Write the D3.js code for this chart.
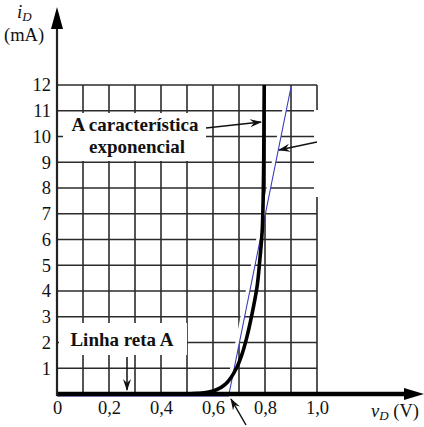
<!DOCTYPE html>
<html>
<head>
<meta charset="utf-8">
<script src="https://cdn.jsdelivr.net/npm/d3@7"></script>
<style>
  body { margin: 0; background: #fff; }
  svg { display: block; }
</style>
</head>
<body>
<div class="chart"></div>
<script>
	// data
	var gridV = [0, 0.1, 0.2, 0.3, 0.4, 0.5, 0.6, 0.7, 0.8, 0.9, 1.0];
	var gridI = [1, 2, 3, 4, 5, 6, 7, 8, 9, 10, 11, 12];
	var xTickVals = [0, 0.2, 0.4, 0.6, 0.8, 1.0];
	var yTickVals = [1, 2, 3, 4, 5, 6, 7, 8, 9, 10, 11, 12];

	// exponential characteristic (thick black)
	var expV = [0, 0.50, 0.55, 0.60, 0.63, 0.65, 0.67, 0.69, 0.71, 0.73, 0.75, 0.77, 0.78, 0.79, 0.795, 0.797];
	var expI = [0, 0.00, 0.03, 0.12, 0.25, 0.40, 0.65, 1.00, 1.50, 2.20, 3.10, 4.20, 5.20, 6.50, 9.0, 12];

	// straight line A (thin blue)
	var lineV = [0, 0.66, 0.90];
	var lineI = [0, 0, 12];

	var width = 424, height = 427;
	var serif = "'Liberation Serif', 'Times New Roman', serif";

	var svg = d3.select(".chart")
		.append("svg")
			.attr("width", width)
			.attr("height", height)
			.style("font-family", serif);

	var x = d3.scaleLinear().domain([0, 1]).range([57, 317]);
	var y = d3.scaleLinear().domain([0, 12]).range([394, 85]);

	var defs = svg.append("defs");
	defs.append("marker")
		.attr("id", "head")
		.attr("viewBox", "0 0 12 10")
		.attr("refX", 11).attr("refY", 5)
		.attr("markerWidth", 12).attr("markerHeight", 10)
		.attr("markerUnits", "userSpaceOnUse")
		.attr("orient", "auto")
	  .append("path")
		.attr("d", "M0,1 L12,5 L0,9 L4,5 Z")
		.attr("fill", "#111");

	// grid
	var grid = svg.append("g").attr("stroke", "#2b2b2b").attr("stroke-width", 1.6);
	grid.selectAll(".gv").data(gridV).enter().append("line")
		.attr("class", "gv")
		.attr("x1", function(d){ return x(d); }).attr("x2", function(d){ return x(d); })
		.attr("y1", y(0)).attr("y2", y(12));
	grid.selectAll(".gh").data(gridI).enter().append("line")
		.attr("class", "gh")
		.attr("x1", x(0)).attr("x2", x(1))
		.attr("y1", function(d){ return y(d); }).attr("y2", function(d){ return y(d); });

	// white boxes behind the labels
	svg.append("rect").attr("x", 63).attr("y", 113).attr("width", 143).attr("height", 48).attr("fill", "#fff");
	svg.append("rect").attr("x", 59).attr("y", 323).attr("width", 128).attr("height", 32).attr("fill", "#fff");
	svg.append("rect").attr("x", 314).attr("y", 110).attr("width", 8).attr("height", 87).attr("fill", "#fff");

	// straight line A with its white halo
	var lineA = d3.line()
		.x(function(d){ return x(d[0]); })
		.y(function(d){ return y(d[1]); });
	var linePts = lineV.map(function(v, i){ return [v, lineI[i]]; });
	svg.append("path")
		.datum(linePts)
		.attr("d", lineA)
		.attr("transform", "translate(-2,2)")
		.attr("fill", "none")
		.attr("stroke", "#fff")
		.attr("stroke-width", 4);
	svg.append("path")
		.datum(linePts)
		.attr("d", lineA)
		.attr("transform", "translate(0,2)")
		.attr("fill", "none")
		.attr("stroke", "#3a3ab8")
		.attr("stroke-width", 1.1);

	// exponential curve
	var expPts = expV.map(function(v, i){ return [v, expI[i]]; });
	svg.append("path")
		.datum(expPts)
		.attr("d", d3.line()
			.x(function(d){ return x(d[0]); })
			.y(function(d){ return y(d[1]); })
			.curve(d3.curveMonotoneY))
		.attr("fill", "none")
		.attr("stroke", "#000")
		.attr("stroke-width", 3.6)
		.attr("stroke-linejoin", "round");

	// axes
	svg.append("line")
		.attr("x1", x(0)).attr("x2", 406)
		.attr("y1", y(0)).attr("y2", y(0))
		.attr("stroke", "#000").attr("stroke-width", 4.5);
	svg.append("path").attr("d", "M424,394 L404,388 L404,400 Z").attr("fill", "#000");
	svg.append("line")
		.attr("x1", x(0)).attr("x2", x(0))
		.attr("y1", y(0) + 2).attr("y2", 26)
		.attr("stroke", "#222").attr("stroke-width", 2.2);
	svg.append("path").attr("d", "M57,7 L51,29 L63,29 Z").attr("fill", "#000");

	// tick labels through d3 axes
	var xAxisCall = d3.axisBottom(x)
		.tickValues(xTickVals)
		.tickSize(0)
		.tickPadding(0)
		.tickFormat(function(d){ return d === 0 ? "0" : d3.format(".1f")(d).replace(".", ","); });
	var xAxis = svg.append("g")
		.attr("transform", "translate(0," + 398 + ")")
		.call(xAxisCall);
	xAxis.select(".domain").remove();
	xAxis.selectAll("text")
		.attr("font-size", "18.5px")
		.attr("fill", "#111")
		.attr("dy", "0.85em");

	var yAxisCall = d3.axisLeft(y)
		.tickValues(yTickVals)
		.tickSize(0)
		.tickPadding(6);
	var yAxis = svg.append("g")
		.attr("transform", "translate(" + 57 + ",0)")
		.call(yAxisCall);
	yAxis.select(".domain").remove();
	yAxis.selectAll("text")
		.attr("font-size", "18.5px")
		.attr("fill", "#111");

	// axis titles
	var t1 = svg.append("text")
		.attr("x", 17).attr("y", 18)
		.attr("font-size", "19px")
		.attr("font-style", "italic")
		.attr("fill", "#111");
	t1.append("tspan").text("i");
	t1.append("tspan").attr("font-size", "13px").attr("dy", 3).text("D");
	svg.append("text")
		.attr("x", 4).attr("y", 41)
		.attr("font-size", "18.5px")
		.attr("fill", "#111")
		.text("(mA)");

	var t2 = svg.append("text")
		.attr("x", 371).attr("y", 417)
		.attr("font-size", "18.5px")
		.attr("fill", "#111");
	t2.append("tspan").attr("font-style", "italic").text("v");
	t2.append("tspan").attr("font-style", "italic").attr("font-size", "13px").attr("dy", 3).text("D");
	t2.append("tspan").attr("dy", -3).text(" (V)");

	// annotations
	var ann = svg.append("g")
		.attr("font-weight", "bold")
		.attr("font-size", "19px")
		.attr("fill", "#111")
		.attr("text-anchor", "middle");
	ann.append("text").attr("x", 135).attr("y", 131).text("A característica");
	ann.append("text").attr("x", 137).attr("y", 153).text("exponencial");
	ann.append("text").attr("x", 122).attr("y", 346).text("Linha reta A");

	// every text gets the serif face inline, so nothing overrides it
	svg.selectAll("text").style("font-family", serif);

	var arrows = svg.append("g")
		.attr("stroke", "#111")
		.attr("stroke-width", 1.5)
		.attr("fill", "none");
	arrows.append("line").attr("x1", 206).attr("y1", 128).attr("x2", 261).attr("y2", 122).attr("marker-end", "url(#head)");
	arrows.append("line").attr("x1", 317).attr("y1", 142).attr("x2", 279).attr("y2", 150).attr("marker-end", "url(#head)");
	arrows.append("line").attr("x1", 127).attr("y1", 357).attr("x2", 127).attr("y2", 390).attr("marker-end", "url(#head)");
	arrows.append("line").attr("x1", 246).attr("y1", 425).attr("x2", 231).attr("y2", 399).attr("marker-end", "url(#head)");
</script>
</body>
</html>
